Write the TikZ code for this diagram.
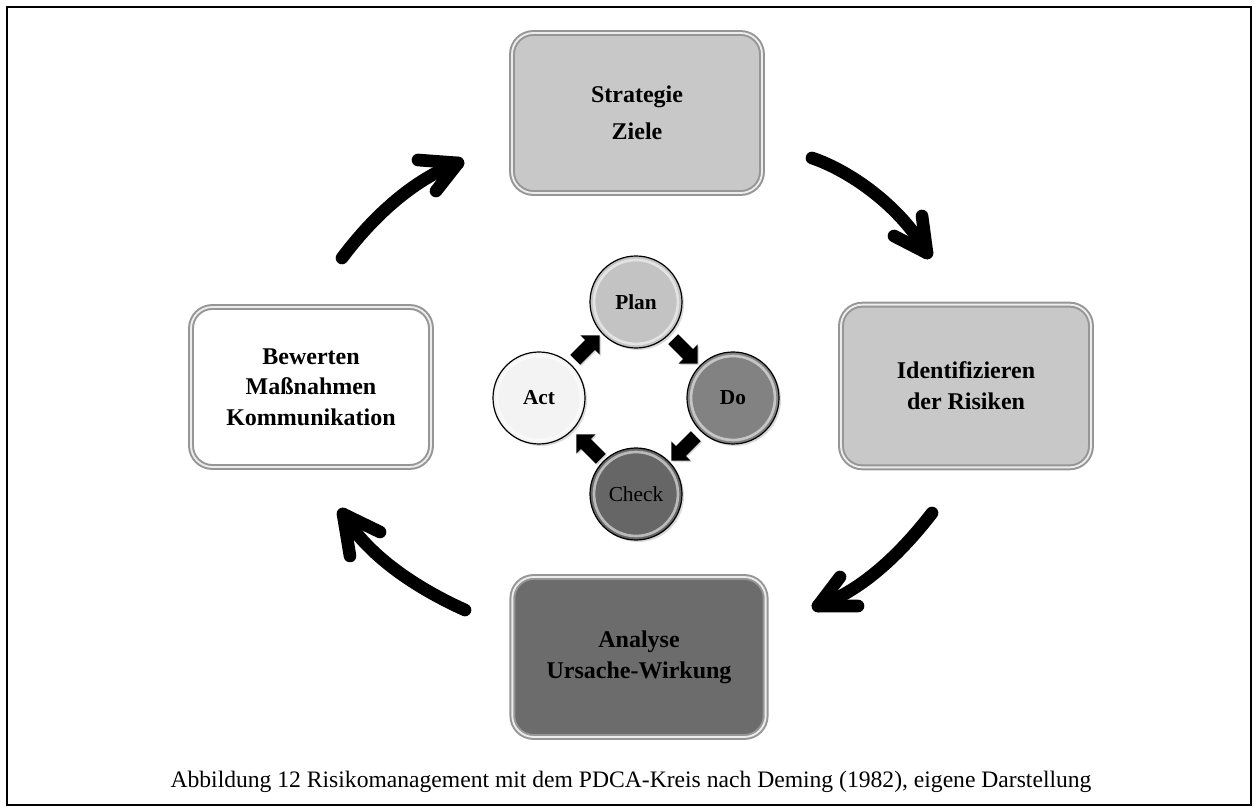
\documentclass[tikz,border=0pt]{standalone}
\usepackage{fontspec}
\setmainfont{Liberation Serif}
\usetikzlibrary{shapes.arrows,shadows,calc}
\definecolor{boxlight}{RGB}{200,200,200}
\definecolor{boxdark}{RGB}{108,108,108}
\definecolor{cplan}{RGB}{195,195,195}
\definecolor{cdo}{RGB}{130,130,130}
\definecolor{ccheck}{RGB}{102,102,102}
\definecolor{cact}{RGB}{243,243,243}
\definecolor{bevel}{RGB}{150,150,150}
\tikzset{
 stagebox/.style={rounded corners=16pt, draw=bevel, line width=1.5pt, double=white!85!gray, double distance=1.4pt, align=center, font=\fontsize{18}{23}\selectfont\bfseries, drop shadow={opacity=0.35, shadow xshift=1.5pt, shadow yshift=-1.5pt}},
 pdca/.style={circle, draw=black, line width=0.9pt, minimum size=69pt, inner sep=0pt, font=\fontsize{16}{19}\selectfont, path picture={\draw[white, opacity=0.55, line width=2pt] (path picture bounding box.center) circle (31.5pt);}, drop shadow={opacity=0.3, shadow xshift=1.5pt, shadow yshift=-1.5pt}},
 minarrow/.style={single arrow, fill=black, inner sep=5pt, minimum height=26pt, single arrow head extend=5pt, drop shadow={opacity=0.3, shadow xshift=1pt, shadow yshift=-1pt}},
 brush/.style={line width=9.5pt, line cap=round, line join=round},
}
\begin{document}
\begin{tikzpicture}[x=0.75pt,y=-0.75pt]
\useasboundingbox (0,0) rectangle (1260,812);
\draw[line width=1.5pt] (7,7) rectangle (1251,805);
% stage boxes
\node[stagebox, fill=boxlight, minimum width=187.5pt, minimum height=120pt] (top) at (637,113) {Strategie\\[5pt]Ziele};
\node[stagebox, fill=boxlight, minimum width=187.5pt, minimum height=122pt] (right) at (966,386) {Identifizieren\\der Risiken};
\node[stagebox, fill=boxdark, minimum width=190pt, minimum height=120pt] (bottom) at (639,657) {Analyse\\Ursache-Wirkung};
\node[stagebox, fill=white, minimum width=180pt, minimum height=120pt] (left) at (311,387) {Bewerten\\Maßnahmen\\Kommunikation};
% PDCA circles
\node[pdca, fill=cplan, font=\fontsize{16}{19}\selectfont\bfseries] (plan) at (636,302) {Plan};
\node[pdca, fill=cdo, font=\fontsize{16}{19}\selectfont\bfseries] (do) at (733,398) {Do};
\node[pdca, fill=ccheck] (check) at (636,494) {Check};
\node[pdca, fill=cact, font=\fontsize{16}{19}\selectfont\bfseries] (act) at (539,398) {Act};
% small arrows
\node[minarrow, rotate=45] (a1) at (585,350) {};
\node[minarrow, rotate=-45] (a2) at (683,349) {};
\node[minarrow, rotate=-135] (a3) at (686,446) {};
\node[minarrow, rotate=135] (a4) at (591,449) {};
% big brush arrows
\coordinate (s1) at (342,258); \coordinate (t1) at (458,163);
\coordinate (s2) at (812,158); \coordinate (t2) at (927,253);
\coordinate (s3) at (932,513); \coordinate (t3) at (818,606);
\coordinate (s4) at (465,610); \coordinate (t4) at (343,514);
\draw[brush] (s1) .. controls (372,218) and (412,180) .. (t1);
\draw[brush] ($(t1)+(-40,-3)$) -- (t1) -- ($(t1)+(-22,28)$);
\draw[brush] (s2) .. controls (848,170) and (900,205) .. (t2);
\draw[brush] ($(t2)+(-5,-37)$) -- (t2) -- ($(t2)+(-33,-17)$);
\draw[brush] (s3) .. controls (905,548) and (865,590) .. (t3);
\draw[brush] ($(t3)+(22,-29)$) -- (t3) -- ($(t3)+(40,0)$);
\draw[brush] (s4) .. controls (425,592) and (370,560) .. (t4);
\draw[brush] ($(t4)+(7,42)$) -- (t4) -- ($(t4)+(37,18)$);
% caption
\node[font=\fontsize{17.7}{21}\selectfont] (cap) at (631,782) {Abbildung 12 Risikomanagement mit dem PDCA-Kreis nach Deming (1982), eigene Darstellung};
\end{tikzpicture}
\end{document}
